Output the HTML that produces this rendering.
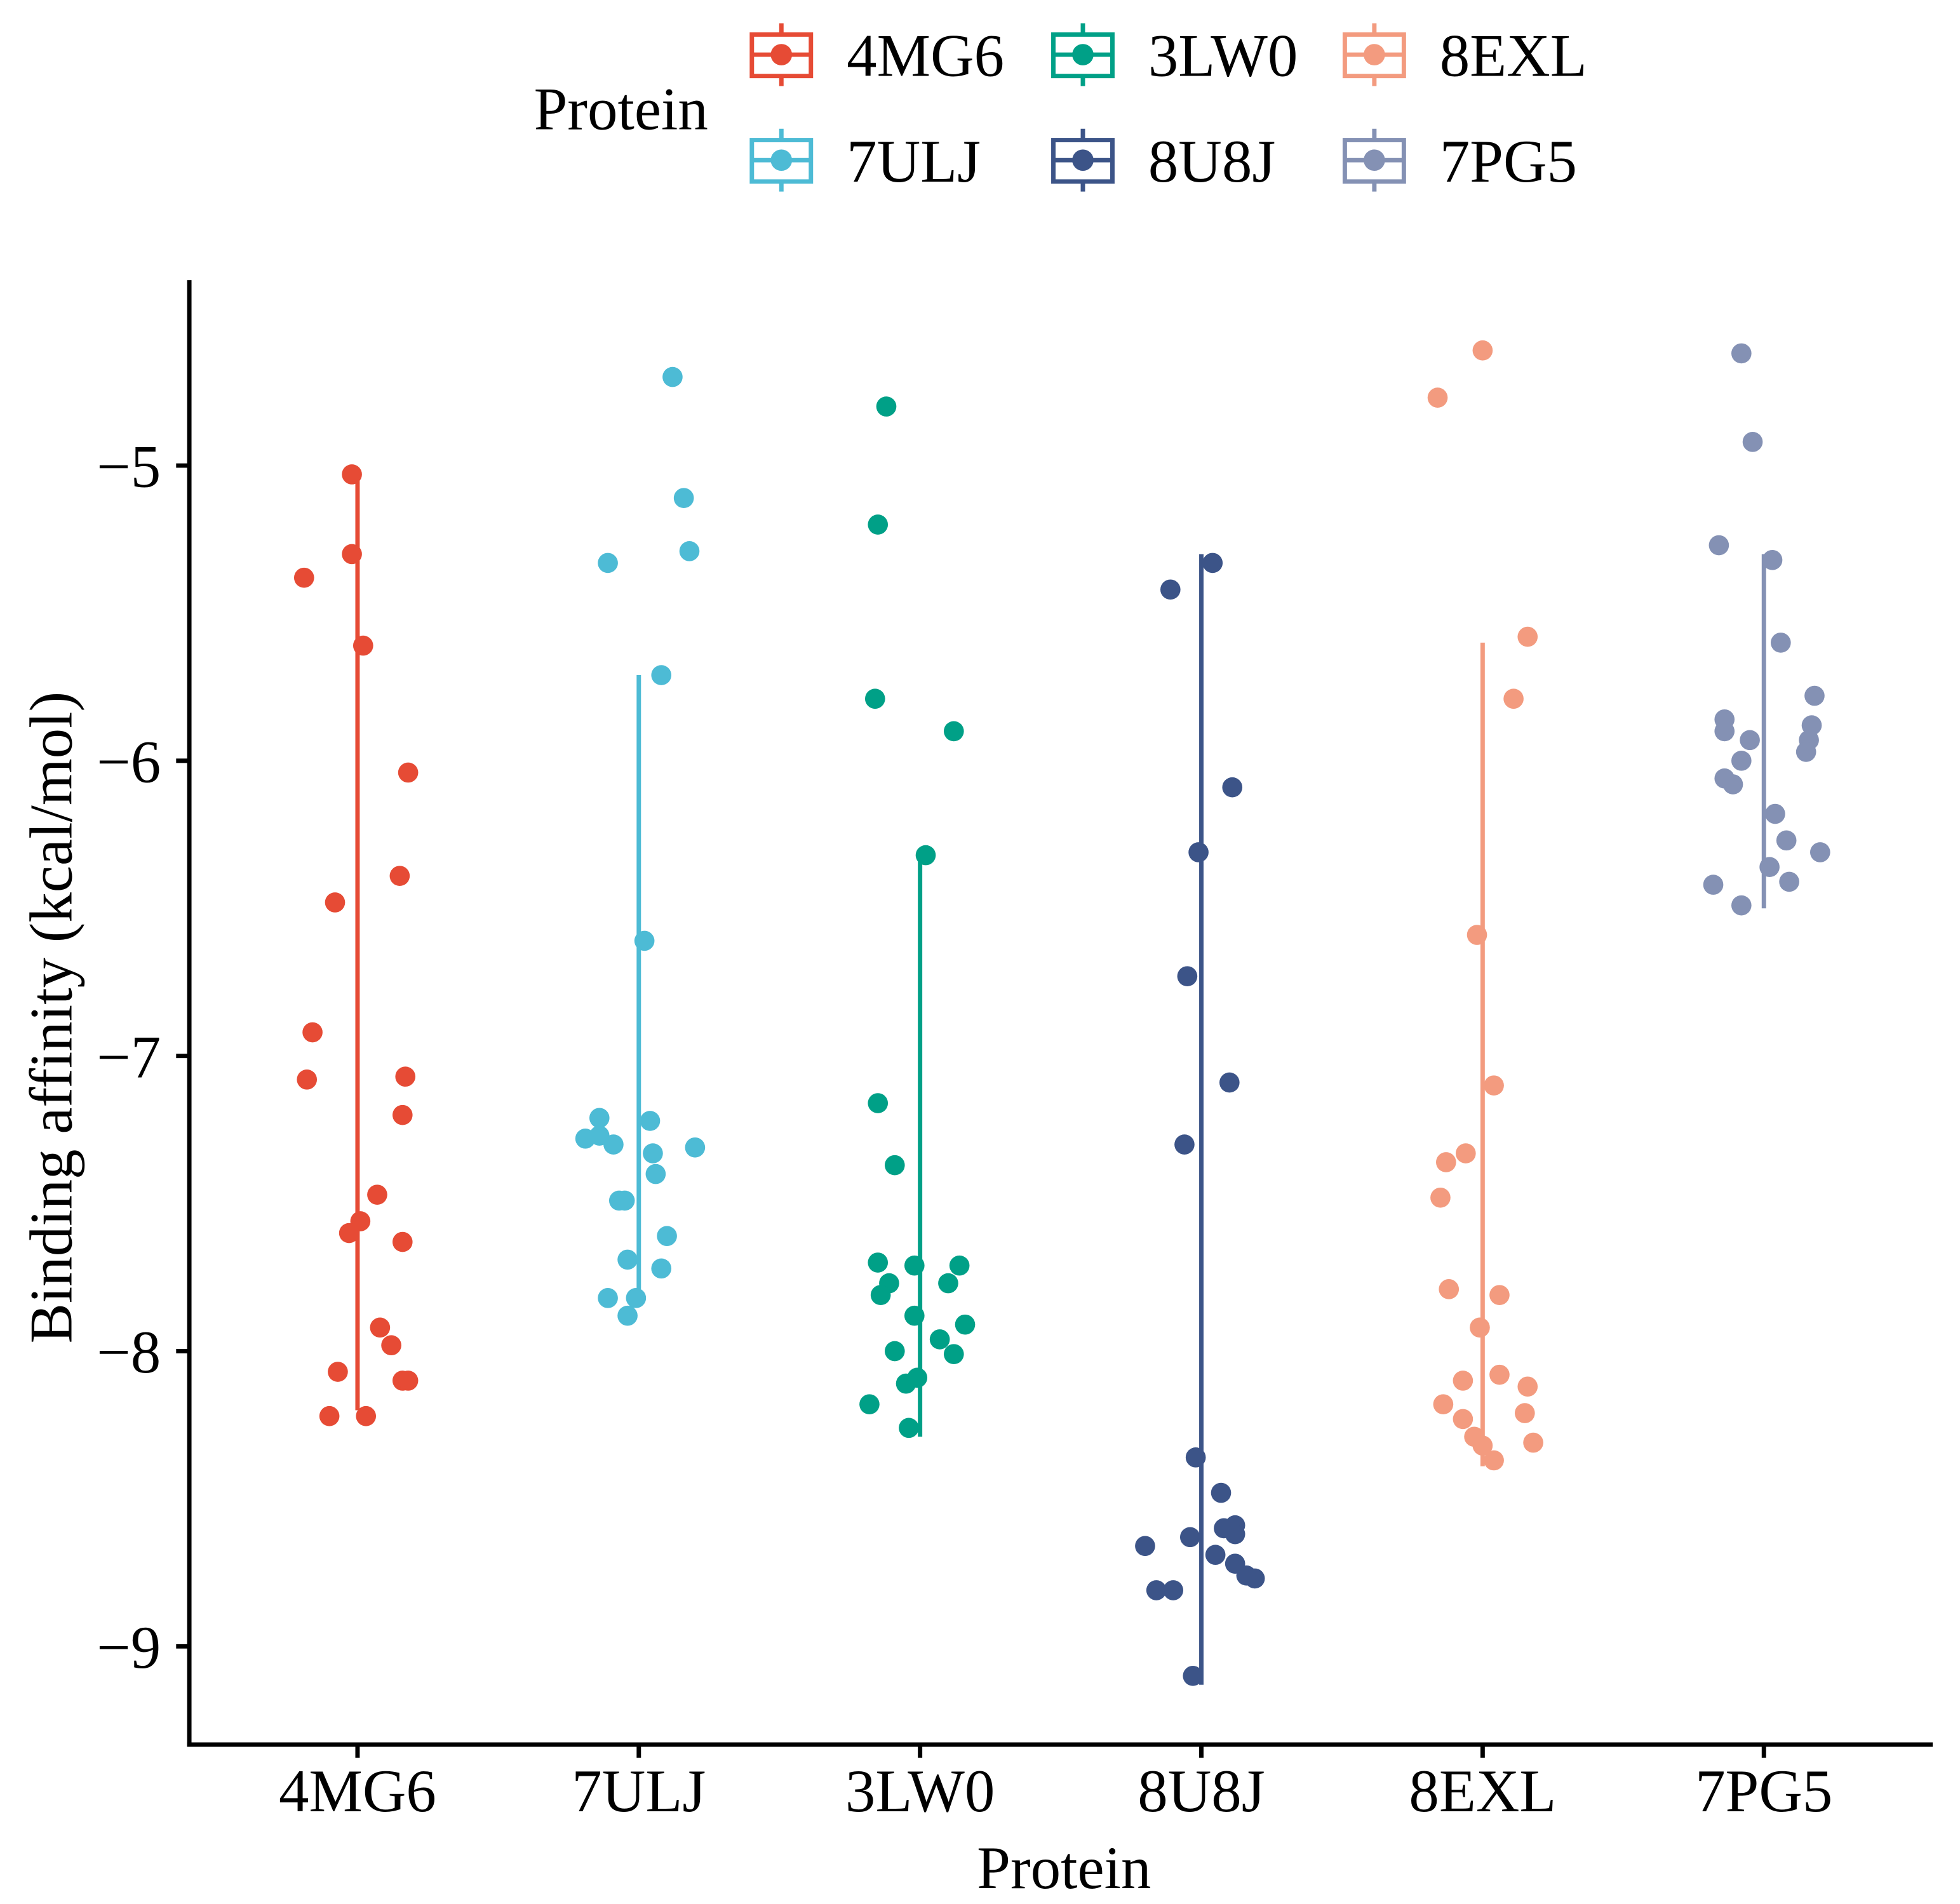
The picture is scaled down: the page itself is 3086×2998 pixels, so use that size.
<!DOCTYPE html>
<html><head><meta charset="utf-8"><style>
html,body{margin:0;padding:0;background:#fff;}
svg{display:block;}
text{font-family:"Liberation Serif",serif;fill:#000;}
</style></head><body>
<svg id="chart" width="3086" height="2998" viewBox="0 0 1560.2 1515.7" xmlns="http://www.w3.org/2000/svg">
<rect width="1560.2" height="1515.7" fill="#fff"/>
<g id="legend">
<text x="425" y="103" font-size="48">Protein</text>
</g>
<g id="axes"></g>
<g id="marks"></g>
<text x="847" y="1503" font-size="48" text-anchor="middle">Protein</text>
<text transform="translate(57,810) rotate(-90)" font-size="48" text-anchor="middle">Binding affinity (kcal/mol)</text>
</svg>
<script>
const categories = ["4MG6","7ULJ","3LW0","8U8J","8EXL","7PG5"];
const colors = ["#E64B35","#4DBBD5","#00A087","#3C5488","#F39B7F","#8491B4"];
const yTicks = [-5,-6,-7,-8,-9];
const yTickLabels = ["\u22125","\u22126","\u22127","\u22128","\u22129"];
const lineHigh = [-5.05,-5.71,-6.32,-5.30,-5.60,-5.30];
const lineLow = [-8.20,-7.83,-8.29,-9.13,-8.39,-6.50];
const values4MG6 = [-5.03,-5.30,-5.61,-5.38,-6.04,-6.39,-6.48,-6.92,-7.08,-7.07,-7.20,-7.47,-7.56,-7.60,-7.63,-7.92,-7.98,-8.07,-8.10,-8.10,-8.22,-8.22];
const jitter4MG6 = [-0.02,-0.02,0.02,-0.19,0.18,0.15,-0.08,-0.16,-0.18,0.17,0.16,0.07,0.01,-0.03,0.16,0.08,0.12,-0.07,0.16,0.18,-0.10,0.03];
const values7ULJ = [-4.70,-5.11,-5.29,-5.33,-5.71,-6.61,-7.21,-7.28,-7.30,-7.22,-7.33,-7.31,-7.40,-7.49,-7.49,-7.61,-7.69,-7.72,-7.82,-7.82,-7.88,-7.27];
const jitter7ULJ = [0.12,0.16,0.18,-0.11,0.08,0.02,-0.14,-0.19,-0.09,0.04,0.05,0.20,0.06,-0.07,-0.05,0.10,-0.04,0.08,-0.11,-0.01,-0.04,-0.14];
const values3LW0 = [-4.80,-5.20,-5.79,-5.90,-6.32,-7.16,-7.37,-7.70,-7.71,-7.71,-7.77,-7.81,-7.77,-7.88,-7.91,-8.00,-7.96,-8.01,-8.09,-8.11,-8.18,-8.26];
const jitter3LW0 = [-0.12,-0.15,-0.16,0.12,0.02,-0.15,-0.09,-0.15,-0.02,0.14,-0.11,-0.14,0.10,-0.02,0.16,-0.09,0.07,0.12,-0.01,-0.05,-0.18,-0.04];
const values8U8J = [-5.33,-5.42,-6.09,-6.31,-6.73,-7.09,-7.30,-8.36,-8.48,-8.60,-8.59,-8.63,-8.62,-8.66,-8.69,-8.72,-8.76,-8.77,-8.81,-8.81,-9.10];
const jitter8U8J = [0.04,-0.11,0.11,-0.01,-0.05,0.10,-0.06,-0.02,0.07,0.08,0.12,-0.04,0.12,-0.20,0.05,0.12,0.16,0.19,-0.16,-0.10,-0.03];
const values8EXL = [-4.61,-4.77,-5.58,-5.79,-6.59,-7.10,-7.36,-7.33,-7.48,-7.79,-7.81,-7.92,-8.10,-8.08,-8.12,-8.18,-8.23,-8.21,-8.29,-8.32,-8.31,-8.37];
const jitter8EXL = [0.00,-0.16,0.16,0.11,-0.02,0.04,-0.13,-0.06,-0.15,-0.12,0.06,-0.01,-0.07,0.06,0.16,-0.14,-0.07,0.15,-0.03,0.00,0.18,0.04];
const values7PG5 = [-4.62,-4.92,-5.27,-5.32,-5.60,-5.78,-5.86,-5.90,-5.88,-5.93,-5.93,-5.97,-6.00,-6.06,-6.08,-6.18,-6.27,-6.31,-6.36,-6.42,-6.41,-6.49];
const jitter7PG5 = [-0.08,-0.04,-0.16,0.03,0.06,0.18,-0.14,-0.14,0.17,-0.05,0.16,0.15,-0.08,-0.14,-0.11,0.04,0.08,0.20,0.02,-0.18,0.09,-0.08];
const seriesValues = [values4MG6,values7ULJ,values3LW0,values8U8J,values8EXL,values7PG5];
const seriesJitter = [jitter4MG6,jitter7ULJ,jitter3LW0,jitter8U8J,jitter8EXL,jitter7PG5];

const NS="http://www.w3.org/2000/svg";
const X0=284.6, XSTEP=223.9, Y5=370.6, YUNIT=235;
const AXL=150.7, AXB=1388.8, AXT=223, AXR=1538.5;
function xScale(i){return X0+i*XSTEP;}
function yScale(v){return Y5+(-5-v)*YUNIT;}
function mk(tag,attrs,parent){const e=document.createElementNS(NS,tag);for(const k in attrs)e.setAttribute(k,attrs[k]);parent.appendChild(e);return e;}

const axes=document.getElementById('axes');
let a=mk('line',{x1:AXL,y1:AXT,x2:AXL,y2:AXB+1.75,stroke:'#000','stroke-width':3.5},axes);


a=mk('line',{x1:AXL-1.75,y1:AXB,x2:AXR,y2:AXB,stroke:'#000','stroke-width':3.5},axes);


yTicks.forEach((t,i)=>{
  const y=yScale(t);
  const tk=mk('line',{x1:AXL-10.5,y1:y,x2:AXL,y2:y,stroke:'#000','stroke-width':3.5},axes);
  
  
  const tx=mk('text',{x:128,y:y+17,'font-size':48,'text-anchor':'end'},axes);
  tx.textContent=yTickLabels[i];
  
  
});
categories.forEach((c,i)=>{
  const x=xScale(i);
  const tk=mk('line',{x1:x,y1:AXB,x2:x,y2:AXB+10.5,stroke:'#000','stroke-width':3.5},axes);
  
  
  const tx=mk('text',{x:x,y:1442,'font-size':48,'text-anchor':'middle'},axes);
  tx.textContent=c;
  
  
});

const marks=document.getElementById('marks');
categories.forEach((c,i)=>{
  const g=mk('g',{},marks);
  
  
  const x=xScale(i);
  const ln=mk('line',{x1:x,y1:yScale(lineHigh[i]),x2:x,y2:yScale(lineLow[i]),stroke:colors[i],'stroke-width':3.5},g);
  
  
  seriesValues[i].forEach((v,j)=>{
    const p=mk('circle',{cx:x+seriesJitter[i][j]*XSTEP,cy:yScale(v),r:8,fill:colors[i]},g);
    
    
  });
});

const legend=document.getElementById('legend');
const legCols=[597,837,1069], legRows=[43.5,127.5];
categories.forEach((c,i)=>{
  const lx=legCols[Math.floor(i/2)], ly=legRows[i%2];
  const g=mk('g',{},legend);
  
  
  mk('line',{x1:lx+25,y1:ly-25,x2:lx+25,y2:ly+25,stroke:colors[i],'stroke-width':3.5},g);
  mk('rect',{x:lx+1.5,y:ly-16,width:47,height:33,fill:'#fff',stroke:colors[i],'stroke-width':3.5},g);
  mk('line',{x1:lx,y1:ly,x2:lx+50,y2:ly,stroke:colors[i],'stroke-width':3.5},g);
  mk('circle',{cx:lx+25,cy:ly,r:8.5,fill:colors[i]},g);
  const t=mk('text',{x:lx+77,y:ly+17,'font-size':48},g);
  t.textContent=c;
});
</script>
</body></html>
